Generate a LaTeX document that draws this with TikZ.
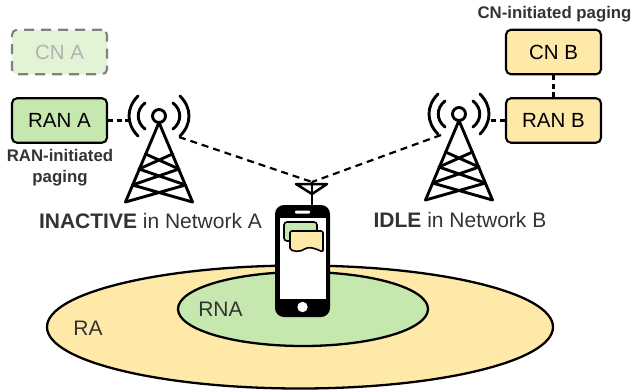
\documentclass[tikz,border=0pt]{standalone}
\usepackage{fontspec}
\setmainfont{Liberation Sans}
\definecolor{paleG}{HTML}{C6E8AE}
\definecolor{paleY}{HTML}{FFE9A8}
\definecolor{txtD}{HTML}{333333}
\tikzset{
  x=1pt,y=-1pt,
  boxn/.style={draw=black,line width=2.1pt,rounded corners=5pt,minimum width=95pt,minimum height=44.5pt,inner sep=0pt,font=\fontsize{20.5}{24}\selectfont,text=black},
  lbl/.style={inner sep=0pt,text=txtD,align=center},
  small/.style={lbl,font=\fontsize{16.8}{21}\selectfont\bfseries},
  big/.style={lbl,font=\fontsize{21}{25}\selectfont},
  link/.style={draw=black,line width=2.2pt,dash pattern=on 7pt off 5pt},
  tw/.style={draw=black,line width=2.9pt,line cap=round,line join=round},
  phoneb/.style={fill=black,rounded corners=9pt}
}
\newcommand{\towerdraw}[2]{%
\begin{scope}[shift={(#1,#2)}]
  \draw[tw] (0,0) circle (6.5);
  \draw[tw] (-14,-13) .. controls (-23,-6) and (-23,6) .. (-14,13);
  \draw[tw] (14,-13) .. controls (23,-6) and (23,6) .. (14,13);
  \draw[tw] (-21,-20) .. controls (-33,-8) and (-33,8) .. (-21,20);
  \draw[tw] (21,-20) .. controls (33,-8) and (33,8) .. (21,20);
  \draw[tw] (-33.5,86) -- (0,6.5) -- (33.5,86);
  \draw[tw] (-13.5,38) -- (20,53) (13.5,38) -- (-20,53);
  \draw[tw] (-20,53) -- (26.5,69) (20,53) -- (-26.5,69);
  \draw[tw] (-26.5,69) -- (33.5,86) (26.5,69) -- (-33.5,86);
\end{scope}}
\begin{document}
\begin{tikzpicture}
\useasboundingbox (0,0) rectangle (631,389);
% coverage ellipses
\draw[line width=2.3pt,fill=paleY] (300,327) ellipse [x radius=253,y radius=61.5];
\draw[line width=2.3pt,fill=paleG] (303,309) ellipse [x radius=125,y radius=37];
\node[big,anchor=center] (ra) at (88,328) {RA};
\node[big,anchor=center] (rna) at (220.5,309) {RNA};
% boxes
\node[boxn,fill=paleG!50,draw=black!50,text=black!30,dash pattern=on 10pt off 7pt] (cnA) at (59.5,52) {CN A};
\node[boxn,fill=paleG] (ranA) at (59.5,120.5) {RAN A};
\node[boxn,fill=paleY] (cnB) at (553.5,52) {CN B};
\node[boxn,fill=paleY] (ranB) at (553.5,120.5) {RAN B};
% towers
\towerdraw{159}{116}
\towerdraw{459}{114}
\coordinate (twAl) at (129,120.5);
\coordinate (twAr) at (179,137);
\coordinate (twBl) at (441,135);
\coordinate (twBr) at (489,120.5);
\coordinate (ant) at (312,182);
% links
\draw[link,dash pattern=on 5pt off 3.5pt] (ranA.east) -- (twAl);
\draw[link,dash pattern=on 5pt off 3.5pt] (ranB.west) -- (twBr);
\draw[link,dash pattern=on 5pt off 3.5pt] (cnB.south) -- (ranB.north);
\draw[link] (twAr) -- (ant);
\draw[link] (twBl) -- (ant);
% antenna
\draw[line width=2.5pt,line join=round] (296,184) -- (327,184) -- (312,194) -- cycle;
\draw[line width=2.5pt] (312,182) -- (312,206);
% phone
\fill[phoneb] (275,205) rectangle (330,317);
\fill[white] (280,218) rectangle (326,299);
\fill[white,rounded corners=1pt] (295,210.5) rectangle (310,213.5);
\fill[white] (302.5,307) circle (5.2);
\draw[line width=1.6pt,fill=paleG,rounded corners=3pt] (284,222) rectangle (317,241);
\draw[line width=1.6pt,fill=paleY,rounded corners=2pt] (290,231) -- (323,231) -- (323,252) .. controls (312,247) and (308,247) .. (303,250) .. controls (298,252) and (295,251) .. (290,250) -- cycle;
% labels
\node[small] (la) at (60,168) {RAN-initiated\\paging};
\node[small] (lb) at (554.5,14) {CN-initiated paging};
\node[big] (stA) at (150.5,221) {\textbf{INACTIVE} in Network A};
\node[big] (stB) at (460,220) {\textbf{IDLE} in Network B};
\end{tikzpicture}
\end{document}
